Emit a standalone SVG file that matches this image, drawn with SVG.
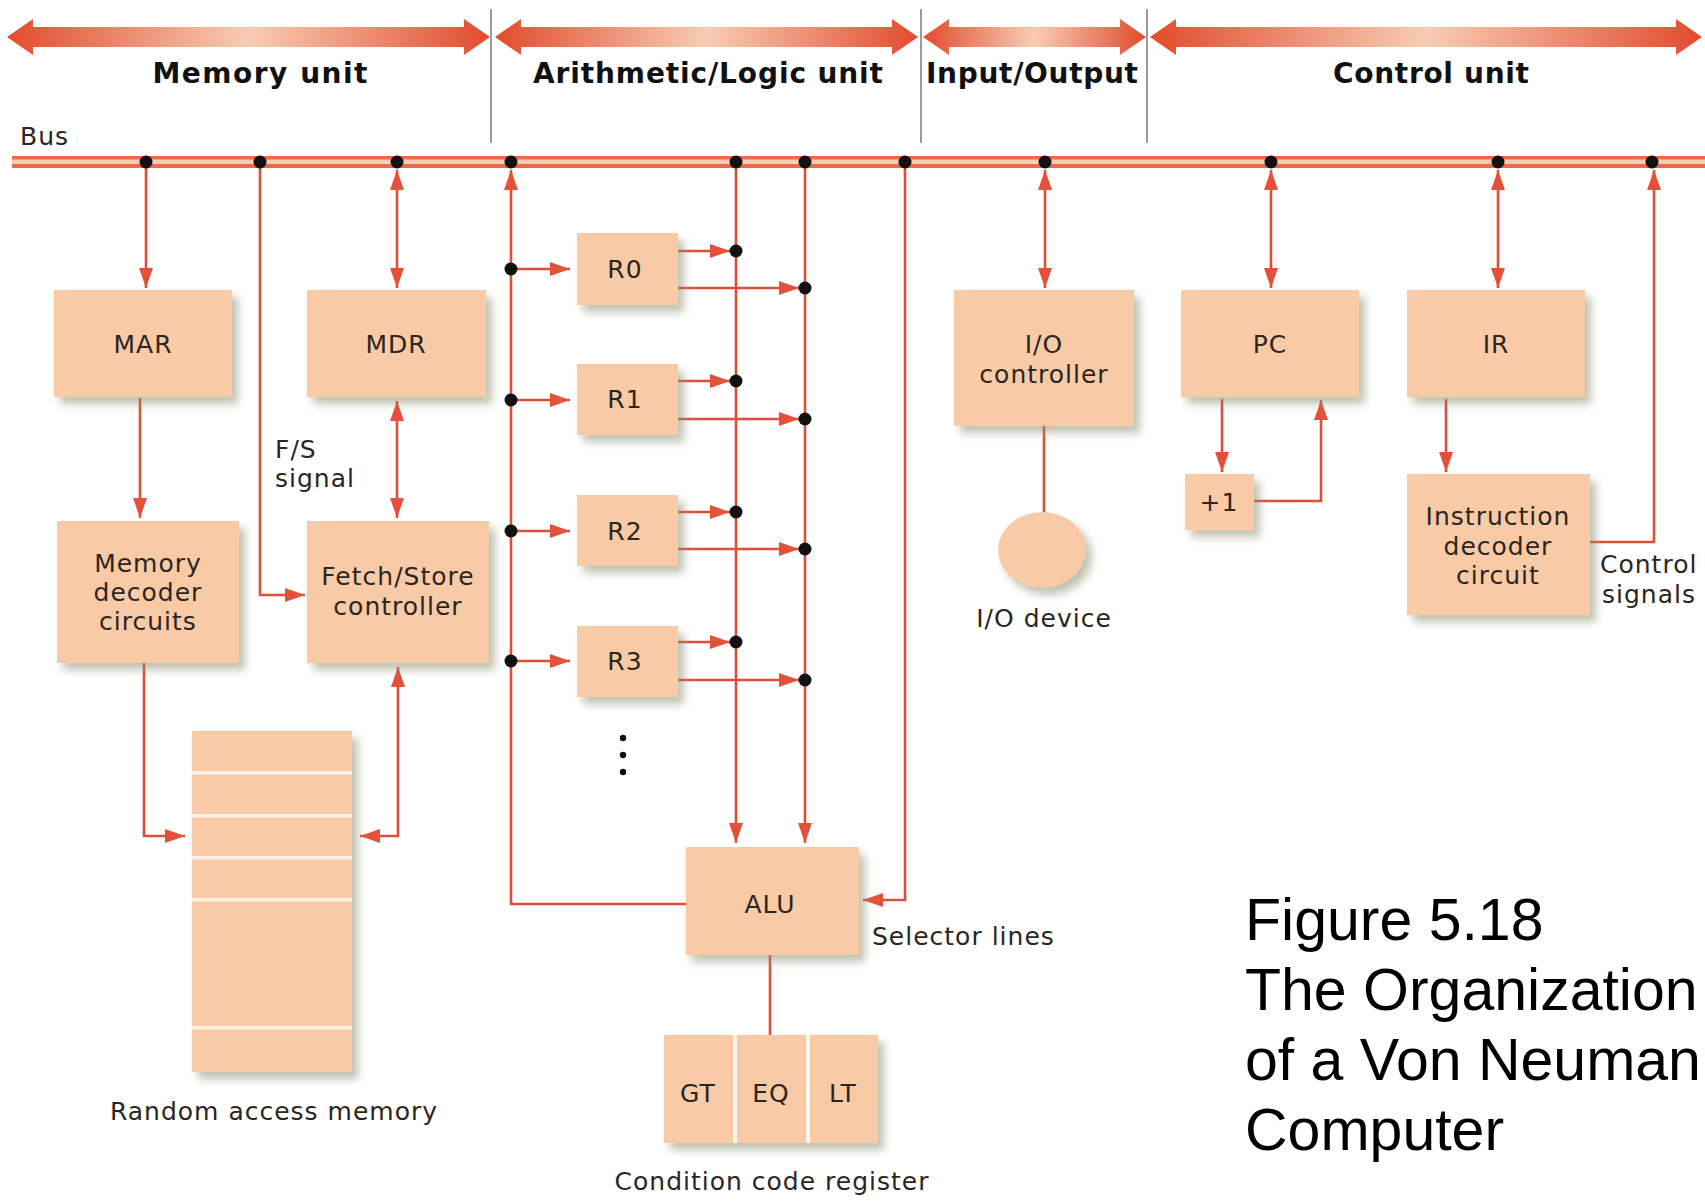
<svg xmlns="http://www.w3.org/2000/svg" width="1705" height="1201" viewBox="0 0 1705 1201">
  <style>
    .box { fill: #F9CAA6; filter: url(#shadow); }
    .lbl { font-family: "DejaVu Sans", "Liberation Sans", sans-serif; font-size: 25px; fill: #2B2622; letter-spacing: 1px; }
    .mid { text-anchor: middle; }
    .hdr { font-family: "DejaVu Sans", "Liberation Sans", sans-serif; font-size: 28px; font-weight: bold; fill: #111; text-anchor: middle; }
    .cap { font-family: "Liberation Sans", Arial, sans-serif; font-size: 59px; fill: #000; }
    .wire { fill: none; stroke: #DE4F3A; stroke-width: 2.6; }
    .arr { marker-end: url(#ah); }
    .arr2 { marker-start: url(#ah); marker-end: url(#ah); }
    .dot { fill: #111; }
    .divider { stroke: #7A7A7A; stroke-width: 1.5; }
    .stripe { fill: #FFF2E4; }
  </style>
  <defs>
    <filter id="shadow" x="-20%" y="-20%" width="150%" height="150%">
      <feGaussianBlur in="SourceAlpha" stdDeviation="4"/>
      <feOffset dx="6" dy="7" result="b"/>
      <feFlood flood-color="#8C9272" flood-opacity="0.55"/>
      <feComposite in2="b" operator="in"/>
      <feMerge><feMergeNode/><feMergeNode in="SourceGraphic"/></feMerge>
    </filter>
    <linearGradient id="band" x1="0" y1="0" x2="1" y2="0">
      <stop offset="0" stop-color="#E24B2C"/>
      <stop offset="0.5" stop-color="#F7CDB4"/>
      <stop offset="1" stop-color="#E24B2C"/>
    </linearGradient>
    <marker id="ah" viewBox="0 0 20 14" refX="20" refY="7" markerWidth="20" markerHeight="14" markerUnits="userSpaceOnUse" orient="auto-start-reverse">
      <path d="M0,0 L20,7 L0,14 z" fill="#E4513A"/>
    </marker>
  </defs>

  <!-- section arrows and labels -->
  <g id="sections">
    <path fill="url(#band)" d="M7,37 L33,19 L33,27 L464,27 L464,19 L490,37 L464,55 L464,47 L33,47 L33,55 Z"/>
    <path fill="url(#band)" d="M495,37 L521,19 L521,27 L892,27 L892,19 L918,37 L892,55 L892,47 L521,47 L521,55 Z"/>
    <path fill="url(#band)" d="M923,37 L949,19 L949,27 L1120,27 L1120,19 L1146,37 L1120,55 L1120,47 L949,47 L949,55 Z"/>
    <path fill="url(#band)" d="M1150,37 L1176,19 L1176,27 L1676,27 L1676,19 L1702,37 L1676,55 L1676,47 L1176,47 L1176,55 Z"/>
    <line class="divider" x1="491" y1="9" x2="491" y2="143"/>
    <line class="divider" x1="921" y1="9" x2="921" y2="143"/>
    <line class="divider" x1="1147" y1="9" x2="1147" y2="143"/>
    <text class="hdr" x="260" y="83" textLength="215">Memory unit</text>
    <text class="hdr" x="708" y="83" textLength="350">Arithmetic/Logic unit</text>
    <text class="hdr" x="1032" y="83" textLength="212">Input/Output</text>
    <text class="hdr" x="1431" y="83" textLength="196">Control unit</text>
  </g>

  <!-- system bus -->
  <g id="bus">
    <rect x="12" y="156" width="1693" height="12" fill="#EC6A48"/>
    <rect x="12" y="159.5" width="1693" height="4.5" fill="#F9CDB3"/>
    <text class="lbl" x="20" y="145">Bus</text>
  </g>

  <!-- connectors -->
  <g id="connectors">
    <!-- memory unit -->
    <line class="wire arr" x1="146" y1="162" x2="146" y2="288"/>
    <polyline class="wire arr" points="260,162 260,595 305,595"/>
    <line class="wire arr2" x1="397" y1="170" x2="397" y2="288"/>
    <line class="wire arr2" x1="397" y1="401" x2="397" y2="518"/>
    <line class="wire arr" x1="140" y1="398" x2="140" y2="518"/>
    <polyline class="wire arr" points="144,663 144,836 185,836"/>
    <polyline class="wire" points="398,667 398,836 360,836" marker-start="url(#ah)" marker-end="url(#ah)"/>

    <!-- ALU and registers -->
    <polyline class="wire arr" points="686,904 511,904 511,170"/>
    <line class="wire arr" x1="511" y1="269" x2="570" y2="269"/>
    <line class="wire arr" x1="511" y1="400" x2="570" y2="400"/>
    <line class="wire arr" x1="511" y1="531" x2="570" y2="531"/>
    <line class="wire arr" x1="511" y1="661" x2="570" y2="661"/>
    <line class="wire arr" x1="736" y1="162" x2="736" y2="843"/>
    <line class="wire arr" x1="805" y1="162" x2="805" y2="843"/>
    <line class="wire arr" x1="678" y1="251" x2="730" y2="251"/>
    <line class="wire arr" x1="678" y1="288" x2="799" y2="288"/>
    <line class="wire arr" x1="678" y1="381" x2="730" y2="381"/>
    <line class="wire arr" x1="678" y1="419" x2="799" y2="419"/>
    <line class="wire arr" x1="678" y1="512" x2="730" y2="512"/>
    <line class="wire arr" x1="678" y1="549" x2="799" y2="549"/>
    <line class="wire arr" x1="678" y1="642" x2="730" y2="642"/>
    <line class="wire arr" x1="678" y1="680" x2="799" y2="680"/>
    <polyline class="wire arr" points="905,162 905,900 863,900"/>
    <line class="wire" x1="770" y1="955" x2="770" y2="1035"/>

    <!-- input/output -->
    <line class="wire arr2" x1="1045" y1="170" x2="1045" y2="288"/>
    <line class="wire" x1="1044" y1="426" x2="1044" y2="514"/>

    <!-- control unit -->
    <line class="wire arr2" x1="1271" y1="170" x2="1271" y2="288"/>
    <line class="wire arr" x1="1222" y1="399" x2="1222" y2="472"/>
    <polyline class="wire arr" points="1254,501 1321,501 1321,400"/>
    <line class="wire arr2" x1="1498" y1="170" x2="1498" y2="288"/>
    <line class="wire arr" x1="1446" y1="399" x2="1446" y2="472"/>
    <polyline class="wire arr" points="1590,542 1654,542 1654,170"/>

    <!-- junction dots -->
    <g class="dot">
      <circle cx="146" cy="162" r="6.5"/>
      <circle cx="260" cy="162" r="6.5"/>
      <circle cx="397" cy="162" r="6.5"/>
      <circle cx="511" cy="162" r="6.5"/>
      <circle cx="736" cy="162" r="6.5"/>
      <circle cx="805" cy="162" r="6.5"/>
      <circle cx="905" cy="162" r="6.5"/>
      <circle cx="1045" cy="162" r="6.5"/>
      <circle cx="1271" cy="162" r="6.5"/>
      <circle cx="1498" cy="162" r="6.5"/>
      <circle cx="1652" cy="162" r="6.5"/>
      <circle cx="511" cy="269" r="6.5"/>
      <circle cx="511" cy="400" r="6.5"/>
      <circle cx="511" cy="531" r="6.5"/>
      <circle cx="511" cy="661" r="6.5"/>
      <circle cx="736" cy="251" r="6.5"/>
      <circle cx="736" cy="381" r="6.5"/>
      <circle cx="736" cy="512" r="6.5"/>
      <circle cx="736" cy="642" r="6.5"/>
      <circle cx="805" cy="288" r="6.5"/>
      <circle cx="805" cy="419" r="6.5"/>
      <circle cx="805" cy="549" r="6.5"/>
      <circle cx="805" cy="680" r="6.5"/>
    </g>
  </g>

  <!-- memory unit nodes -->
  <g id="mar">
    <rect class="box" x="54" y="290" width="178" height="107"/>
    <text class="lbl mid" x="143" y="353">MAR</text>
  </g>
  <g id="mdr">
    <rect class="box" x="307" y="290" width="179" height="107"/>
    <text class="lbl mid" x="396" y="353">MDR</text>
  </g>
  <g id="fs-signal">
    <text class="lbl" x="275" y="458">F/S</text>
    <text class="lbl" x="275" y="487">signal</text>
  </g>
  <g id="memory-decoder">
    <rect class="box" x="57" y="521" width="182" height="142"/>
    <text class="lbl mid" x="148" y="572">Memory</text>
    <text class="lbl mid" x="148" y="601">decoder</text>
    <text class="lbl mid" x="148" y="630">circuits</text>
  </g>
  <g id="fetch-store">
    <rect class="box" x="307" y="521" width="182" height="142"/>
    <text class="lbl mid" x="398" y="585">Fetch/Store</text>
    <text class="lbl mid" x="398" y="615">controller</text>
  </g>
  <g id="ram">
    <rect class="box" x="192" y="731" width="160" height="341"/>
    <rect class="stripe" x="192" y="771" width="160" height="3.5"/>
    <rect class="stripe" x="192" y="814" width="160" height="3.5"/>
    <rect class="stripe" x="192" y="856" width="160" height="3.5"/>
    <rect class="stripe" x="192" y="898" width="160" height="3.5"/>
    <rect class="stripe" x="192" y="1026" width="160" height="3.5"/>
    <text class="lbl mid" x="274" y="1120">Random access memory</text>
  </g>

  <!-- arithmetic/logic unit nodes -->
  <g id="r0">
    <rect class="box" x="577" y="233" width="101" height="72"/>
    <text class="lbl mid" x="625" y="278">R0</text>
  </g>
  <g id="r1">
    <rect class="box" x="577" y="364" width="101" height="71"/>
    <text class="lbl mid" x="625" y="408">R1</text>
  </g>
  <g id="r2">
    <rect class="box" x="577" y="495" width="101" height="71"/>
    <text class="lbl mid" x="625" y="540">R2</text>
  </g>
  <g id="r3">
    <rect class="box" x="577" y="626" width="101" height="71"/>
    <text class="lbl mid" x="625" y="670">R3</text>
  </g>
  <g id="more-registers" fill="#111">
    <circle cx="623" cy="738" r="3.2"/>
    <circle cx="623" cy="755" r="3.2"/>
    <circle cx="623" cy="772" r="3.2"/>
  </g>
  <g id="alu">
    <rect class="box" x="686" y="847" width="173" height="108"/>
    <text class="lbl mid" x="770" y="913">ALU</text>
  </g>
  <g id="selector-lines">
    <text class="lbl" x="872" y="945">Selector lines</text>
  </g>
  <g id="condition-code">
    <rect class="box" x="664" y="1035" width="214" height="108"/>
    <rect x="733" y="1035" width="4" height="108" fill="#FFF6EE"/>
    <rect x="806" y="1035" width="4" height="108" fill="#FFF6EE"/>
    <text class="lbl mid" x="698" y="1102">GT</text>
    <text class="lbl mid" x="771" y="1102">EQ</text>
    <text class="lbl mid" x="843" y="1102">LT</text>
    <text class="lbl mid" x="772" y="1190">Condition code register</text>
  </g>

  <!-- input/output nodes -->
  <g id="io-controller">
    <rect class="box" x="954" y="290" width="180" height="136"/>
    <text class="lbl mid" x="1044" y="353">I/O</text>
    <text class="lbl mid" x="1044" y="383">controller</text>
  </g>
  <g id="io-device">
    <ellipse class="box" cx="1042" cy="550" rx="44" ry="38"/>
    <text class="lbl mid" x="1044" y="627">I/O device</text>
  </g>

  <!-- control unit nodes -->
  <g id="pc">
    <rect class="box" x="1181" y="290" width="178" height="107"/>
    <text class="lbl mid" x="1270" y="353">PC</text>
  </g>
  <g id="increment">
    <rect class="box" x="1185" y="474" width="69" height="56"/>
    <text class="lbl mid" x="1219" y="511">+1</text>
  </g>
  <g id="ir">
    <rect class="box" x="1407" y="290" width="178" height="107"/>
    <text class="lbl mid" x="1496" y="353">IR</text>
  </g>
  <g id="instruction-decoder">
    <rect class="box" x="1407" y="474" width="183" height="141"/>
    <text class="lbl mid" x="1498" y="525">Instruction</text>
    <text class="lbl mid" x="1498" y="555">decoder</text>
    <text class="lbl mid" x="1498" y="584">circuit</text>
  </g>
  <g id="control-signals">
    <text class="lbl" x="1600" y="573">Control</text>
    <text class="lbl" x="1602" y="603">signals</text>
  </g>

  <!-- figure caption -->
  <g id="caption">
    <text class="cap" x="1245" y="940">Figure 5.18</text>
    <text class="cap" x="1245" y="1010">The Organization</text>
    <text class="cap" x="1245" y="1080">of a Von Neumann</text>
    <text class="cap" x="1245" y="1150">Computer</text>
  </g>
</svg>
